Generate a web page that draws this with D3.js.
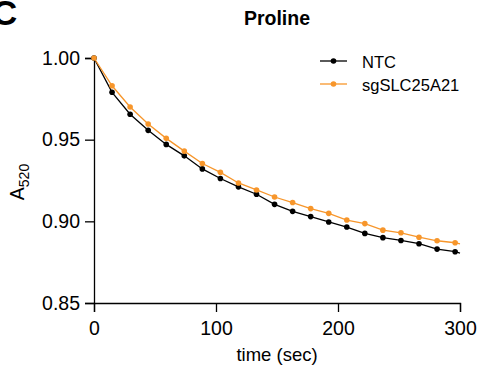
<!DOCTYPE html>
<html lang="en">
    <head>
        <meta charset="utf-8">
        <title>Proline</title>
        <script src="https://cdn.jsdelivr.net/npm/d3@7"></script>
        <style>
            body { margin: 0; background: #fff; }
            text { font-family: "Liberation Sans", Arial, sans-serif; fill: #000; }
        </style>
    </head>
    <body>
        <script type="text/javascript">

            // data
            var times = [0, 14.8, 29.6, 44.4, 59.2, 74, 88.8, 103.6, 118.4, 133.2, 148,
                         162.8, 177.6, 192.4, 207.2, 222, 236.8, 251.6, 266.4, 281.2, 296, 300];
            var ntc = [1.000, 0.979, 0.9656, 0.9557, 0.9471, 0.9401, 0.9321, 0.9262, 0.9211, 0.9166, 0.9104,
                       0.9061, 0.9029, 0.8996, 0.8965, 0.8926, 0.8900, 0.8883, 0.8863, 0.8830, 0.8814, 0.8806];
            var sg = [1.000, 0.983, 0.970, 0.9596, 0.9508, 0.943, 0.9354, 0.930, 0.9235, 0.9192, 0.9149,
                      0.9115, 0.9078, 0.9049, 0.9008, 0.8986, 0.8946, 0.8930, 0.8903, 0.8881, 0.8869, 0.8862];
            var nMarkers = 21; // last entry is the line end only
            var xTicks = [0, 100, 200, 300];
            var yTicks = [0.85, 0.90, 0.95, 1.00];
            var seriesNames = ["NTC", "sgSLC25A21"];
            var colors = ["#000000", "#f7962b"];

            var w = 478, h = 373;
            var margin = {left: 94, right: 18, top: 58, bottom: 70};

            var svg = d3.select("body").append("svg")
                .attr("width", w)
                .attr("height", h);

            var x = d3.scaleLinear().domain([0, 300]).range([margin.left, w - margin.right]);
            var y = d3.scaleLinear().domain([0.85, 1.00]).range([h - margin.bottom, margin.top]);

            // panel letter (cut off at the corner, as in the figure)
            svg.append("text")
                .attr("x", -8).attr("y", 25)
                .attr("font-size", 35).attr("font-weight", "bold")
                .text("C");

            // title
            svg.append("text")
                .attr("x", 277).attr("y", 25)
                .attr("text-anchor", "middle")
                .attr("font-size", 19.5).attr("font-weight", "bold")
                .text("Proline");

            // x axis with minor ticks every 10 s
            var xAxis = svg.append("g")
                .attr("transform", "translate(0," + y(0.85) + ")");
            xAxis.call(d3.axisBottom(x).tickValues(d3.range(0, 301, 10)).tickSize(4).tickFormat(""));
            xAxis.call(d3.axisBottom(x).tickValues(xTicks).tickSize(9).tickFormat(d3.format("d")));
            xAxis.selectAll(".domain").attr("stroke-width", 1.3);
            xAxis.selectAll("line").attr("stroke-width", 1.3);
            xAxis.selectAll("text").attr("font-size", 19.5).attr("dy", "1.05em");

            var yAxis = svg.append("g")
                .attr("transform", "translate(" + x(0) + ",0)")
                .call(d3.axisLeft(y).tickValues(yTicks).tickSize(9).tickFormat(d3.format(".2f")));
            yAxis.selectAll(".domain").attr("stroke-width", 1.3);
            yAxis.selectAll("line").attr("stroke-width", 1.3);
            yAxis.selectAll("text").attr("font-size", 19.5).attr("dx", "-2");
            svg.selectAll(".domain").attr("stroke", "#000");
            svg.selectAll(".tick line").attr("stroke", "#000");
            svg.selectAll(".tick text").style("font-family", "'Liberation Sans', Arial, sans-serif");

            // axis labels
            svg.append("text")
                .attr("x", 277).attr("y", 361)
                .attr("text-anchor", "middle")
                .attr("font-size", 18.5)
                .text("time (sec)");

            var yl = svg.append("text")
                .attr("transform", "translate(24,182) rotate(-90)")
                .attr("text-anchor", "middle")
                .attr("font-size", 19.5);
            yl.append("tspan").text("A");
            yl.append("tspan").attr("font-size", 14).attr("dy", 5).text("520");

            // series
            var series = [ntc, sg];
            var line = d3.line()
                .x(function(d) { return x(d[0]); })
                .y(function(d) { return y(d[1]); });

            series.forEach(function(vals, k) {
                var pts = times.map(function(t, i) { return [t, vals[i]]; });
                svg.append("path")
                    .datum(pts)
                    .attr("fill", "none")
                    .attr("stroke", colors[k])
                    .attr("stroke-width", 1.3)
                    .attr("d", line);
                svg.selectAll(".pt" + k)
                    .data(pts.slice(0, nMarkers))
                    .enter().append("circle")
                    .attr("class", "pt" + k)
                    .attr("cx", function(d) { return x(d[0]); })
                    .attr("cy", function(d) { return y(d[1]); })
                    .attr("r", 2.8)
                    .attr("fill", colors[k]);
            });

            // legend
            var legend = svg.append("g");
            seriesNames.forEach(function(name, k) {
                var ly = 61 + k * 23;
                legend.append("line")
                    .attr("x1", 320).attr("x2", 347)
                    .attr("y1", ly).attr("y2", ly)
                    .attr("stroke", colors[k]).attr("stroke-width", 1.3);
                legend.append("circle")
                    .attr("cx", 333.5).attr("cy", ly).attr("r", 2.8)
                    .attr("fill", colors[k]);
                legend.append("text")
                    .attr("x", 362).attr("y", ly + 6.5)
                    .attr("font-size", 16.5)
                    .text(name);
            });

        </script>
    </body>
</html>
